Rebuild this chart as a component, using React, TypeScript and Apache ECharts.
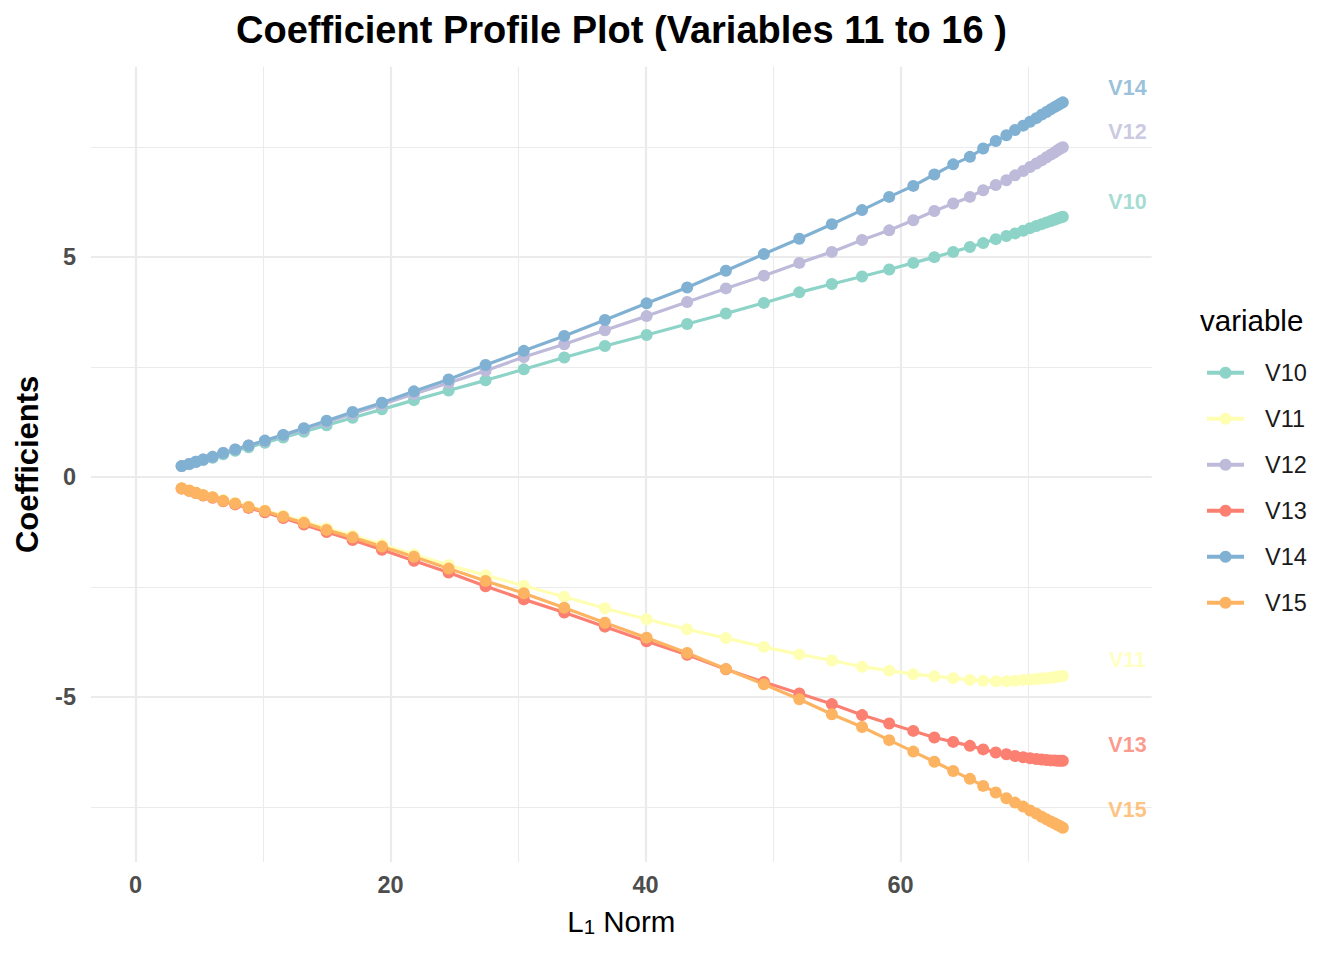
import React, { useEffect, useRef } from "react";
import * as echarts from "echarts";

const variables = ["V10", "V11", "V12", "V13", "V14", "V15"];

const l1Norm = [
  3.61, 4.2, 4.73, 5.3, 6.04, 6.87, 7.81, 8.86, 10.14, 11.58, 13.2, 14.98, 17.02, 19.32, 21.83, 24.55,
  27.45, 30.45, 33.62, 36.81, 40.08, 43.26, 46.3, 49.28,
  52.06, 54.61, 56.98, 59.11, 61.0, 62.65, 64.13, 65.44, 66.48, 67.47, 68.3, 68.98, 69.62, 70.16, 70.65,
  71.07, 71.45, 71.78, 72.07, 72.32, 72.54, 72.73,
];

const v10 = [
  0.25, 0.29, 0.34, 0.39, 0.44, 0.52, 0.6, 0.68, 0.78, 0.9, 1.03, 1.18, 1.35, 1.54, 1.75, 1.97,
  2.2, 2.45, 2.72, 2.98, 3.23, 3.48, 3.72, 3.96,
  4.2, 4.39, 4.56, 4.72, 4.87, 5.0, 5.12, 5.23, 5.32, 5.41, 5.48, 5.54, 5.6, 5.66, 5.71, 5.75, 5.79,
  5.82, 5.85, 5.88, 5.9, 5.92,
];
const v11 = [
  -0.25, -0.3, -0.35, -0.4, -0.45, -0.52, -0.59, -0.67, -0.76, -0.88, -1.01, -1.16, -1.33, -1.53, -1.76, -2.0,
  -2.23, -2.47, -2.72, -2.98, -3.23, -3.46, -3.66, -3.86,
  -4.03, -4.17, -4.31, -4.4, -4.48, -4.53, -4.57, -4.61, -4.63, -4.64, -4.64, -4.63, -4.61, -4.6, -4.59,
  -4.58, -4.57, -4.56, -4.55, -4.54, -4.53, -4.52,
];
const v12 = [
  0.25, 0.3, 0.35, 0.4, 0.46, 0.55, 0.63, 0.72, 0.82, 0.95, 1.09, 1.25, 1.44, 1.65, 1.89, 2.14,
  2.42, 2.73, 3.02, 3.34, 3.66, 3.98, 4.29, 4.58,
  4.87, 5.12, 5.39, 5.61, 5.84, 6.05, 6.22, 6.37, 6.52, 6.64, 6.75, 6.86, 6.96, 7.05, 7.13, 7.2, 7.27,
  7.33, 7.38, 7.43, 7.47, 7.5,
];
const v13 = [
  -0.26, -0.31, -0.36, -0.42, -0.47, -0.55, -0.62, -0.7, -0.8, -0.93, -1.08, -1.25, -1.43, -1.65, -1.9, -2.17,
  -2.48, -2.78, -3.08, -3.4, -3.73, -4.04, -4.37, -4.66,
  -4.92, -5.16, -5.41, -5.6, -5.77, -5.92, -6.02, -6.11, -6.19, -6.26, -6.3, -6.34, -6.37, -6.39, -6.41,
  -6.42, -6.43, -6.44, -6.44, -6.45, -6.45, -6.45,
];
const v14 = [
  0.25, 0.3, 0.35, 0.4, 0.46, 0.55, 0.63, 0.72, 0.83, 0.96, 1.11, 1.28, 1.48, 1.69, 1.95, 2.22,
  2.55, 2.87, 3.21, 3.57, 3.95, 4.31, 4.69, 5.07,
  5.42, 5.75, 6.07, 6.37, 6.62, 6.88, 7.11, 7.28, 7.47, 7.64, 7.77, 7.89, 7.99, 8.08, 8.16, 8.24, 8.3,
  8.36, 8.41, 8.45, 8.49, 8.52,
];
const v15 = [
  -0.26, -0.31, -0.36, -0.41, -0.46, -0.54, -0.6, -0.68, -0.77, -0.9, -1.04, -1.2, -1.37, -1.58, -1.81, -2.08,
  -2.36, -2.64, -2.97, -3.31, -3.65, -4.0, -4.36, -4.71,
  -5.05, -5.39, -5.68, -5.98, -6.24, -6.47, -6.68, -6.86, -7.02, -7.17, -7.3, -7.4, -7.49, -7.58, -7.65,
  -7.72, -7.78, -7.83, -7.87, -7.91, -7.94, -7.97,
];

const coefficients = [v10, v11, v12, v13, v14, v15];

// end-of-path label anchors (data coordinates)
const labelX = 77.8;
const labelY = [6.26, -4.16, 7.85, -6.09, 8.85, -7.57];

const xTicks = [0, 20, 40, 60];
const xMinorGrid = [10, 30, 50, 70];
const yTicks = [-5, 0, 5];
const yMinorGrid = [-7.5, -2.5, 2.5, 7.5];

const palette = ["#8DD3C7", "#FFFFB3", "#BEBADA", "#FB8072", "#80B1D3", "#FDB462"];
const FONT = '"Liberation Sans", Arial, Helvetica, sans-serif';

export default function App() {
  const ref = useRef<HTMLDivElement>(null);

  useEffect(() => {
    if (!ref.current) return;
    const chart = echarts.init(ref.current, null, { renderer: "svg" });

    const gridMarks = [
      ...xMinorGrid.map((v) => ({ xAxis: v, lineStyle: { width: 1.1 } })),
      ...yMinorGrid.map((v) => ({ yAxis: v, lineStyle: { width: 1.1 } })),
      ...xTicks.map((v) => ({ xAxis: v, lineStyle: { width: 2.2 } })),
      ...yTicks.map((v) => ({ yAxis: v, lineStyle: { width: 2.2 } })),
    ];

    const lineSeries = variables.map((name, i) => ({
      name,
      type: "line",
      data: l1Norm.map((x, j) => [x, coefficients[i][j]]),
      symbol: "circle",
      symbolSize: 12,
      showSymbol: true,
      showAllSymbol: true,
      itemStyle: { color: palette[i] },
      lineStyle: { width: 3.2, color: palette[i] },
      emphasis: { disabled: true },
      z: 3,
    }));

    const option: any = {
      animation: false,
      backgroundColor: "#ffffff",
      textStyle: { fontFamily: FONT },
      grid: { left: 91, right: 192.3, top: 66.7, bottom: 98, containLabel: false },
      xAxis: {
        type: "value",
        min: -3.5,
        max: 79.7,
        axisLine: { show: false },
        axisTick: { show: false },
        splitLine: { show: false },
        axisLabel: {
          customValues: xTicks,
          fontSize: 23.5,
          fontWeight: "bold",
          color: "#4D4D4D",
          margin: 11,
          fontFamily: FONT,
        },
        name: "L{sub|1} Norm",
        nameLocation: "middle",
        nameGap: 44.7,
        nameTextStyle: {
          fontSize: 29.5,
          lineHeight: 30,
          color: "#000000",
          fontFamily: FONT,
          rich: {
            sub: { fontSize: 20.5, lineHeight: 15, verticalAlign: "bottom", color: "#000000", fontFamily: FONT },
          },
        },
      },
      yAxis: {
        type: "value",
        min: -8.75,
        max: 9.33,
        axisLine: { show: false },
        axisTick: { show: false },
        splitLine: { show: false },
        axisLabel: {
          customValues: yTicks,
          fontSize: 23.5,
          fontWeight: "bold",
          color: "#4D4D4D",
          margin: 15,
          fontFamily: FONT,
        },
        name: "Coefficients",
        nameLocation: "middle",
        nameGap: 48,
        nameTextStyle: {
          fontSize: 31,
          lineHeight: 31,
          fontWeight: "bold",
          color: "#000000",
          fontFamily: FONT,
        },
      },
      legend: {
        data: variables,
        orient: "vertical",
        left: 1200,
        top: 355.7,
        itemWidth: 37,
        itemHeight: 15,
        itemGap: 22,
        selectedMode: false,
        lineStyle: { width: 4 },
        textStyle: {
          fontSize: 23.5,
          lineHeight: 24,
          color: "#1A1A1A",
          fontFamily: FONT,
          padding: [0, 0, 0, 16],
        },
      },
      graphic: [
        {
          type: "text",
          x: 621.4,
          y: 30,
          silent: true,
          style: {
            text: "Coefficient Profile Plot (Variables 11 to 16 )",
            font: `bold 38px ${FONT}`,
            fill: "#000000",
            align: "center",
            verticalAlign: "middle",
            textAlign: "center",
            textVerticalAlign: "middle",
          },
        },
        {
          type: "text",
          x: 1200,
          y: 320,
          silent: true,
          style: {
            text: "variable",
            font: `29.5px ${FONT}`,
            fill: "#000000",
            align: "left",
            verticalAlign: "middle",
            textAlign: "left",
            textVerticalAlign: "middle",
          },
        },
      ],
      series: [
        {
          name: "__grid",
          type: "line",
          data: [],
          silent: true,
          z: 1,
          markLine: {
            silent: true,
            z: 1,
            symbol: ["none", "none"],
            label: { show: false },
            emphasis: { disabled: true },
            lineStyle: { color: "#EBEBEB", type: "solid" },
            data: gridMarks,
          },
        },
        ...lineSeries,
        {
          name: "__labels",
          type: "scatter",
          symbolSize: 0,
          silent: true,
          z: 4,
          data: variables.map((n, i) => ({
            value: [labelX, labelY[i]],
            name: n,
            label: { color: palette[i] },
          })),
          label: {
            show: true,
            position: "inside",
            formatter: "{b}",
            fontWeight: "bold",
            fontSize: 21.5,
            fontFamily: FONT,
          },
        },
      ],
    };

    chart.setOption(option);
    return () => {
      chart.dispose();
    };
  }, []);

  return (
    <div
      ref={ref}
      style={{ position: "fixed", left: 0, top: 0, width: 1344, height: 960, background: "#fff" }}
    />
  );
}
